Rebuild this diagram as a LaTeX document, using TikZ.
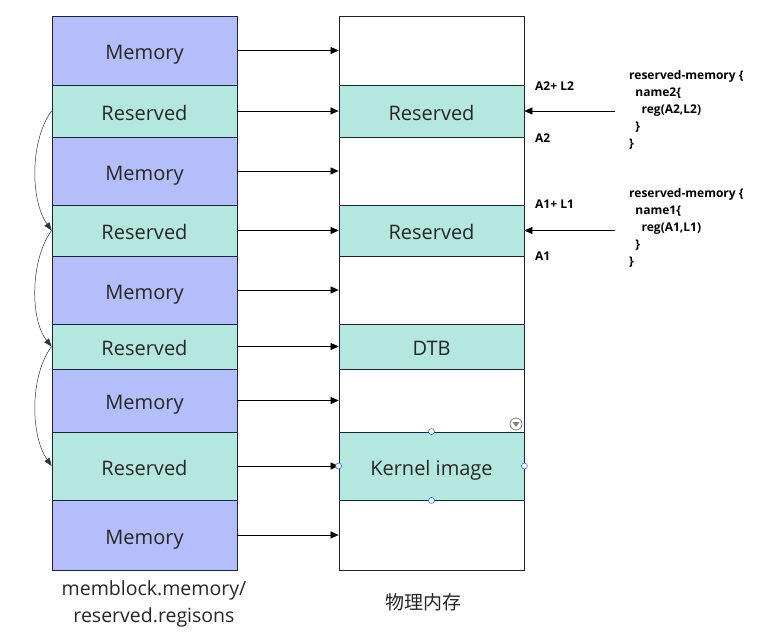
\documentclass[tikz,border=0pt]{standalone}
\usepackage{fontspec}
\setmainfont{Open Sans}
\newfontfamily\cjk{Noto Sans CJK SC}
\usetikzlibrary{arrows.meta}
\definecolor{memblue}{RGB}{180,190,250}
\definecolor{resgreen}{RGB}{180,232,222}
\definecolor{edge}{RGB}{25,35,60}
\tikzset{
  cell/.style={draw=edge, line width=0.8pt, minimum width=185pt, inner sep=0pt, font=\fontsize{20}{20}\selectfont, text height=20pt, text depth=1.6pt, text=black!85},
  mem/.style={cell, fill=memblue},
  res/.style={cell, fill=resgreen},
  empty/.style={cell, fill=white},
  arr/.style={-{Triangle[length=8pt,width=7pt]}, line width=0.6pt},
  carr/.style={-{Triangle[length=8pt,width=6pt]}, line width=0.5pt, black!80},
  small/.style={font=\bfseries\fontsize{12}{12}\selectfont, anchor=west, inner sep=0pt},
  handle/.style={circle, draw=blue!60!cyan, fill=white, line width=0.5pt, minimum size=6pt, inner sep=0pt}
}
\begin{document}
\begin{tikzpicture}[x=1pt,y=-1pt]
\useasboundingbox (0,0) rectangle (779,639);
% left column
\node[mem, minimum height=69pt] (l1) at (144.5,50.5) {Memory};
\node[res, minimum height=52pt] (l2) at (144.5,111) {Reserved};
\node[mem, minimum height=68pt] (l3) at (144.5,171) {Memory};
\node[res, minimum height=51pt] (l4) at (144.5,230.5) {Reserved};
\node[mem, minimum height=68pt] (l5) at (144.5,290) {Memory};
\node[res, minimum height=45pt] (l6) at (144.5,346.5) {Reserved};
\node[mem, minimum height=63pt] (l7) at (144.5,400.5) {Memory};
\node[res, minimum height=68pt] (l8) at (144.5,466) {Reserved};
\node[mem, minimum height=70pt] (l9) at (144.5,535) {Memory};
% right column
\node[empty, minimum height=69pt] (r1) at (431.5,50.5) {};
\node[res, minimum height=52pt] (r2) at (431.5,111) {Reserved};
\node[empty, minimum height=68pt] (r3) at (431.5,171) {};
\node[res, minimum height=51pt] (r4) at (431.5,230.5) {Reserved};
\node[empty, minimum height=68pt] (r5) at (431.5,290) {};
\node[res, minimum height=45pt] (r6) at (431.5,346.5) {DTB};
\node[empty, minimum height=63pt] (r7) at (431.5,400.5) {};
\node[res, minimum height=68pt] (r8) at (431.5,466) {Kernel image};
\node[empty, minimum height=70pt] (r9) at (431.5,535) {};
% horizontal arrows
\foreach \i in {1,...,9} { \draw[arr] (l\i.east) -- (r\i.west); }
% curved arrows
\draw[carr] (l2.west) .. controls (30,140) and (30,200) .. (l4.west);
\draw[carr] (l4.west) .. controls (30,260) and (30,320) .. (l6.west);
\draw[carr] (l6.west) .. controls (30,375) and (30,435) .. (l8.west);
% labels
\node[small] (a2l2) at (535,86) {A2+ L2};
\node[small] (a2) at (535,138) {A2};
\node[small] (a1l1) at (535,204) {A1+ L1};
\node[small] (a1) at (535,256) {A1};
\node[small, align=left, font=\bfseries\fontsize{12}{17}\selectfont, anchor=north west] (t2) at (629,70) {reserved-memory \{\\\ \ name2\{\\\ \ \ \ reg(A2,L2)\\\ \ \}\\\}};
\node[small, align=left, font=\bfseries\fontsize{12}{17}\selectfont, anchor=north west] (t1) at (629,188) {reserved-memory \{\\\ \ name1\{\\\ \ \ \ reg(A1,L1)\\\ \ \}\\\}};
\coordinate (s2) at (615,111);
\coordinate (s1) at (615,230.5);
\draw[arr] (s2) -- (r2.east);
\draw[arr] (s1) -- (r4.east);
% bottom captions
\node[font=\fontsize{19.5}{27}\selectfont, align=center, text=black!85] (cap1) at (154,604) {memblock.memory/\\reserved.regisons};
\node[font=\cjk\fontsize{19}{19}\selectfont, text=black!85] (cap2) at (423,602) {物理内存};
% selection handles
\node[handle] (h1) at (r8.north) {};
\node[handle] (h2) at (r8.south) {};
\node[handle] (h3) at (r8.west) {};
\node[handle] (h4) at (r8.east) {};
\node[circle, draw=gray, line width=0.8pt, minimum size=12pt, inner sep=0pt] (dd) at (516,424) {};
\fill[gray] (512.5,422) -- (519.5,422) -- (516,427) -- cycle;
\end{tikzpicture}
\end{document}
